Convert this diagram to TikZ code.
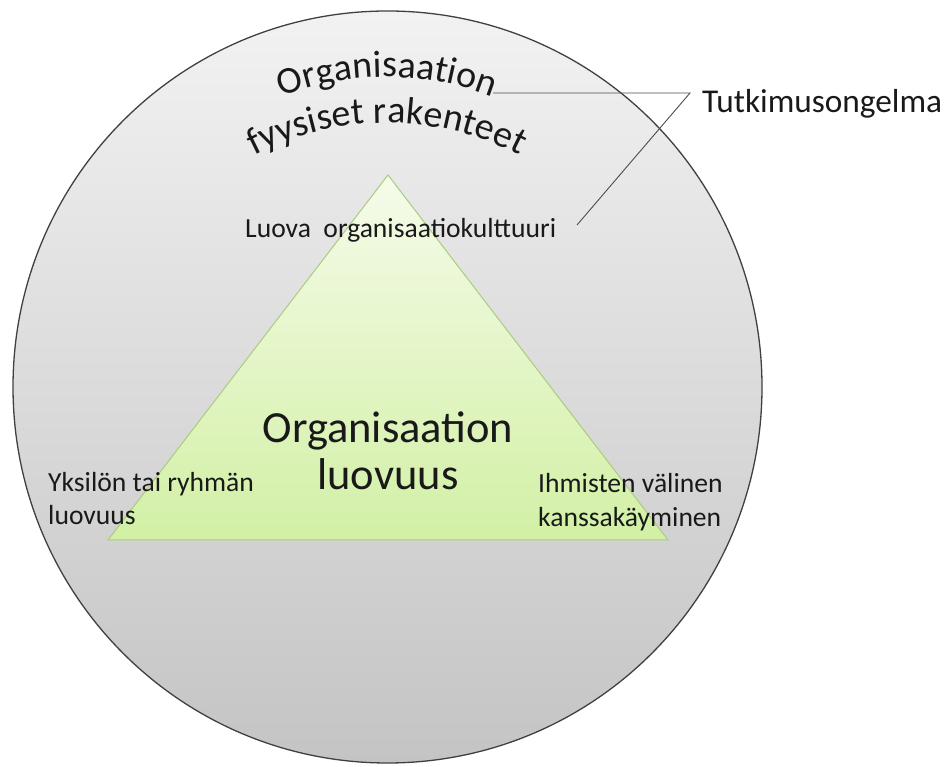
\documentclass[tikz,border=0pt]{standalone}
\usepackage{fontspec}
\setmainfont{Carlito}
\usetikzlibrary{decorations.text}
\definecolor{circtop}{RGB}{242,242,242}
\definecolor{circbot}{RGB}{196,196,196}
\definecolor{tritop}{RGB}{245,251,234}
\definecolor{tribot}{RGB}{210,240,165}
\definecolor{triedge}{RGB}{170,205,125}
\definecolor{ink}{RGB}{25,25,25}
\begin{document}
\begin{tikzpicture}[x=1pt,y=1pt,
  lbl/.style={inner sep=0pt, font=\fontsize{27.6}{33}\selectfont, text=ink},
  big/.style={inner sep=0pt, font=\fontsize{44.5}{47}\selectfont, text=ink, anchor=base},
  conn/.style={draw=black!70, line width=0.9pt}]
\useasboundingbox (0,0) rectangle (949,767);
% outer circle
\shade[top color=circtop, bottom color=circbot, draw=black!75, line width=1.3pt]
  (387.5,380) ellipse [x radius=374.5, y radius=376];
% triangle
\shade[top color=tritop, bottom color=tribot, draw=triedge, line width=1pt]
  (388,592) -- (108,227) -- (668,227) -- cycle;
% curved titles
\path[decorate, decoration={text along path, text align=center,
  text={|\fontsize{38}{40}\selectfont\color{ink}|Organisaation}}]
  (387,400) ++(135:290) arc[start angle=135, end angle=45, radius=290];
\path[decorate, decoration={text along path, text align=center,
  text={|\fontsize{38}{40}\selectfont\color{ink}|fyysiset rakenteet}}]
  (387,354) ++(145:290) arc[start angle=145, end angle=35, radius=290];
% labels
\node[lbl, anchor=base west] (luova) at (245,529) {Luova\ \ organisaatiokulttuuri};
\node[lbl, anchor=base west] (yks1) at (48,275) {Yksilön tai ryhmän};
\node[lbl, anchor=base west] (yks2) at (48,242) {luovuus};
\node[lbl, anchor=base west] (ihm1) at (538,274) {Ihmisten välinen};
\node[lbl, anchor=base west] (ihm2) at (538,240) {kanssakäyminen};
\node[big] (org1) at (388,324) {Organisaation};
\node[big] (org2) at (388,277) {luovuus};
\node[lbl, font=\fontsize{33.3}{40}\selectfont, anchor=base west] (tutk) at (702,654) {Tutkimusongelma};
% connectors
\coordinate (orgend) at (493,674);
\coordinate (tk) at (690,674);
\coordinate (luovaend) at (577,542);
\draw[conn] (orgend) -- (tk) -- (luovaend);
\end{tikzpicture}
\end{document}
